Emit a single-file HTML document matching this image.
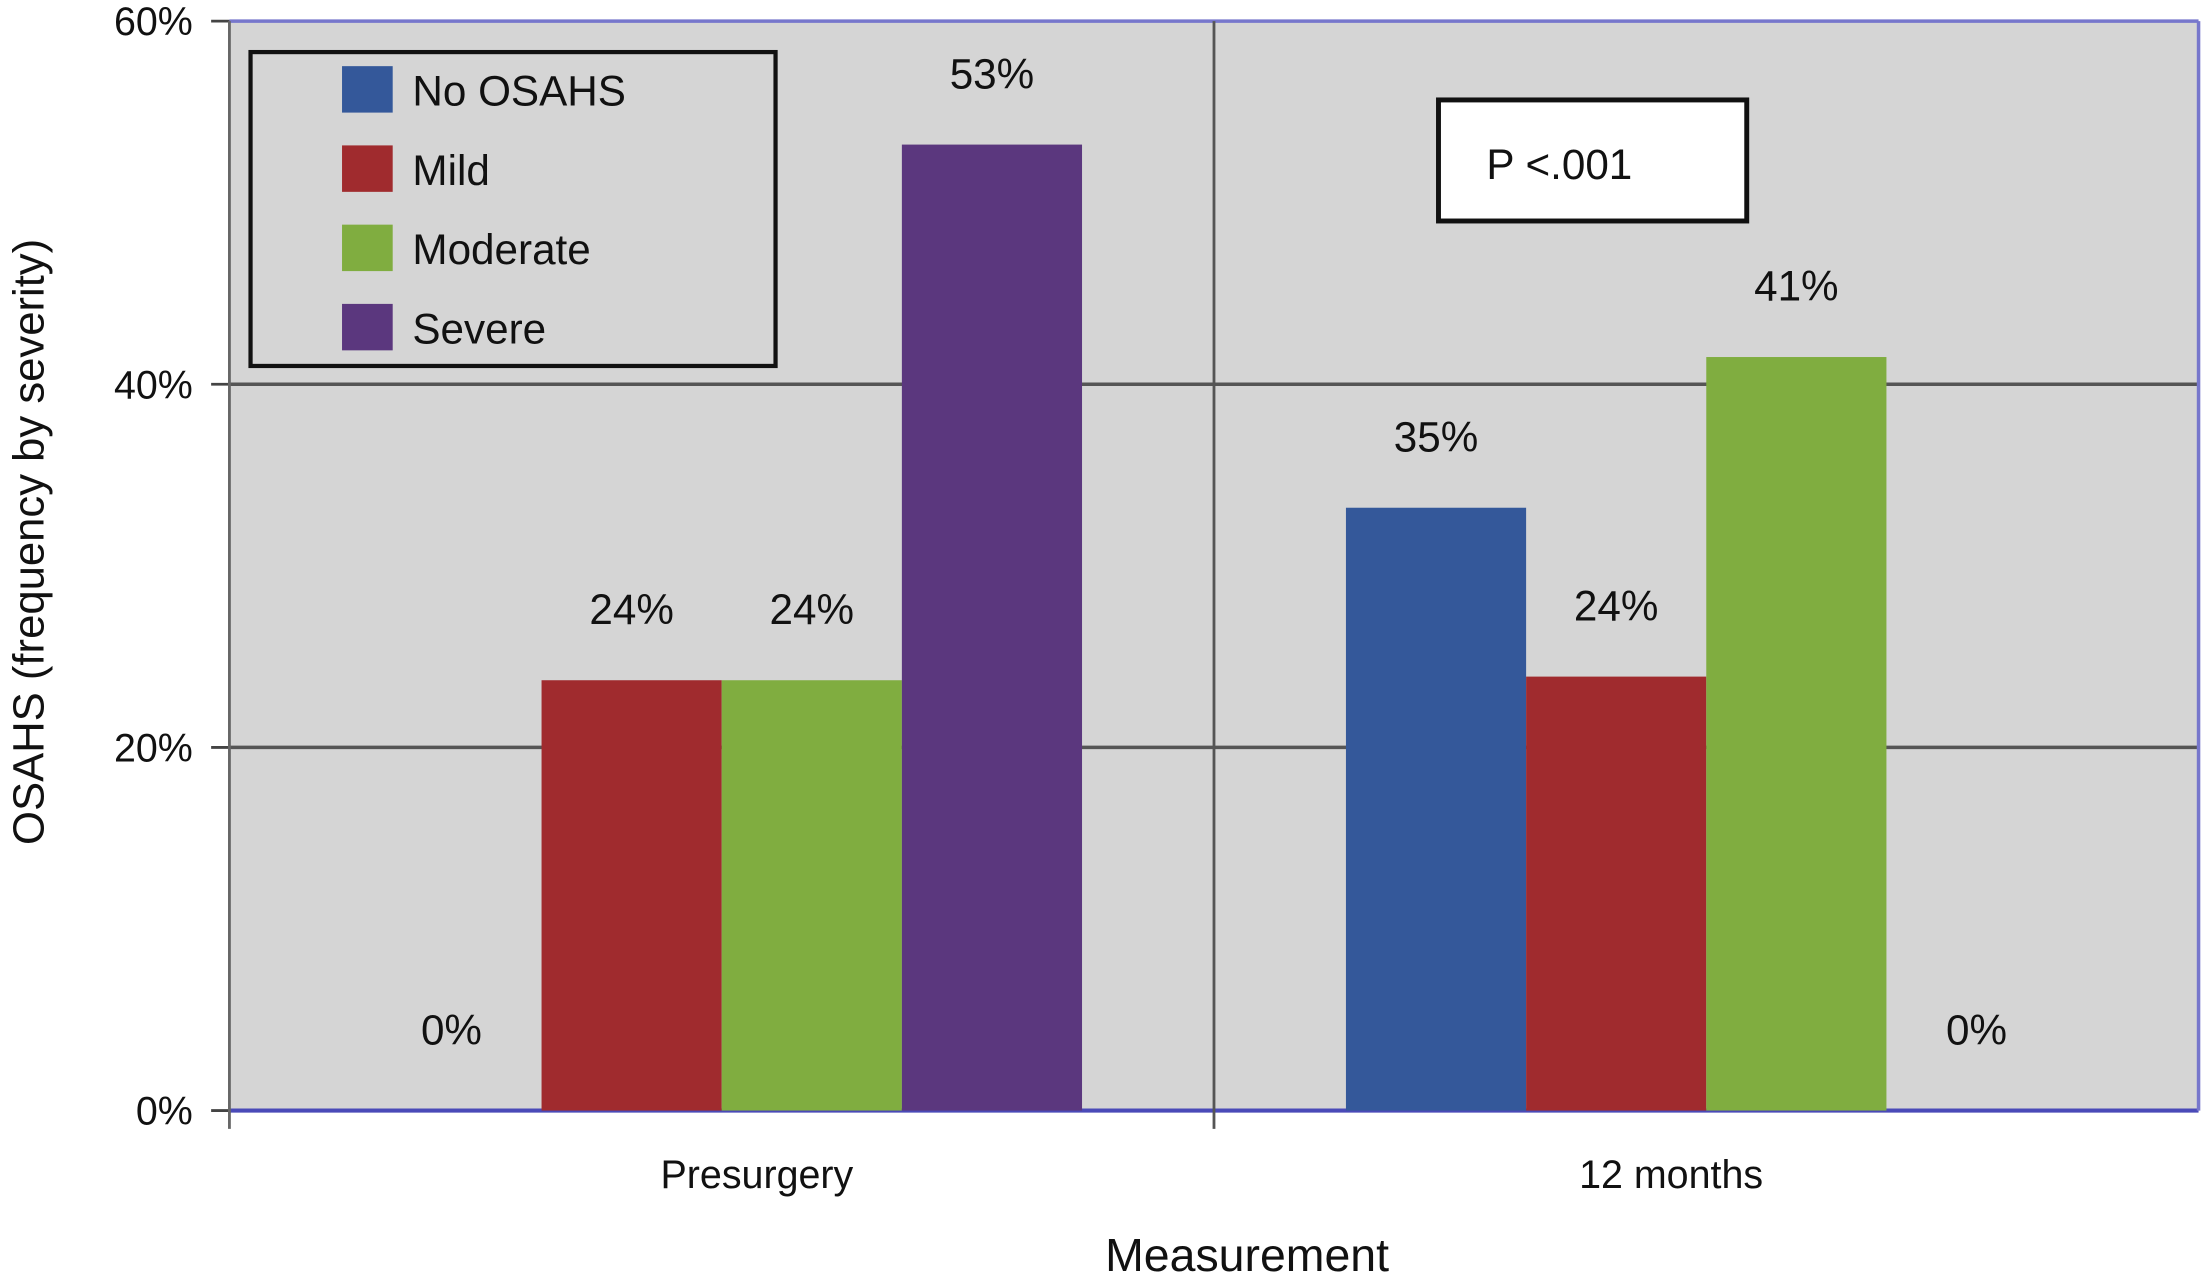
<!DOCTYPE html>
<html><head><meta charset="utf-8"><style>
html,body{margin:0;padding:0;background:#fff}
svg{display:block;font-family:"Liberation Sans",Arial,sans-serif}
</style></head><body>
<svg id="chart" width="2207" height="1283" viewBox="0 0 1568 911.5" preserveAspectRatio="none" xmlns="http://www.w3.org/2000/svg">
<rect x="163" y="15" width="1399" height="775" fill="#d5d5d5"/>
<g id="grid"></g>
<g id="bars"></g>
<g id="labels"></g>
<g>
<rect x="178" y="37" width="373" height="223" fill="#d5d5d5" stroke="#111" stroke-width="3"/>
<g id="legend-items"></g>
</g>
<g>
<rect x="1022" y="71" width="219" height="86" fill="#fff" stroke="#111" stroke-width="3.5"/>
<text x="1056" y="127" font-size="30" fill="#111">P &lt;.001</text>
</g>
<text x="886" y="903" font-size="33" text-anchor="middle" fill="#111">Measurement</text>
<text transform="translate(31,385) rotate(-90)" font-size="31" text-anchor="middle" fill="#111">OSAHS (frequency by severity)</text>
</svg>
<script>
const categories = ["Presurgery", "12 months"];
const seriesNames = ["No OSAHS", "Mild", "Moderate", "Severe"];
const seriesColors = ["#34589a", "#a02b2e", "#80ad40", "#5b377e"];
const noOsahs = [0, 33.2];
const mild = [23.7, 23.9];
const moderate = [23.7, 41.5];
const severe = [53.2, 0];
const noOsahsLabels = ["0%", "35%"];
const mildLabels = ["24%", "24%"];
const moderateLabels = ["24%", "41%"];
const severeLabels = ["53%", "0%"];
const yTicks = [0, 20, 40, 60];
const yTickLabels = ["0%", "20%", "40%", "60%"];

const NS = "http://www.w3.org/2000/svg";
const x0 = 163, x1 = 1562, yTop = 15, yBot = 789;
function yScale(v){ return yBot - (v/60)*(yBot-yTop); }
const catWidth = (x1-x0)/categories.length;
const barW = 128;
function barX(ci, si){ const c = x0 + catWidth*ci + catWidth/2; return c - 2*barW + si*barW; }
function mk(tag, attrs, parent){ const e=document.createElementNS(NS,tag); for(const k in attrs) e.setAttribute(k,attrs[k]); parent.appendChild(e); return e; }

const grid = document.getElementById('grid');
yTicks.forEach((t,i)=>{
  const y = yScale(t);
  const l = mk('line',{x1:x0,x2:x1,y1:y,y2:y,stroke: i===0?'#4a4ab8':(i===yTicks.length-1?'#7777cc':'#555'),'stroke-width':i===0?3:2.5},grid);
  
  
  const tk = mk('line',{x1:150,x2:x0,y1:y,y2:y,stroke:'#444','stroke-width':2},grid);
  
  
  const tx = mk('text',{x:137,y:y+10,'font-size':28,'text-anchor':'end',fill:'#111'},grid);
  tx.textContent = yTickLabels[i];
  
  
});
const vr = mk('line',{x1:x1,x2:x1,y1:yTop,y2:yBot,stroke:'#7777cc','stroke-width':2.5},grid);


const vl = mk('line',{x1:x0,x2:x0,y1:yTop,y2:802,stroke:'#666','stroke-width':2},grid);


categories.forEach((c,ci)=>{
  if(ci>0){
    const d = mk('line',{x1:x0+catWidth*ci,x2:x0+catWidth*ci,y1:yTop,y2:802,stroke:'#555','stroke-width':2},grid);
    
    
  }
  const t = mk('text',{x:x0+catWidth*ci+catWidth/2+(ci===0?25:-25),y:844,'font-size':28,'text-anchor':'middle',fill:'#111'},grid);
  t.textContent = c;
  
  
});

const series = [noOsahs, mild, moderate, severe];
const seriesLabels = [noOsahsLabels, mildLabels, moderateLabels, severeLabels];
const bars = document.getElementById('bars'), labels = document.getElementById('labels');
categories.forEach((c,ci)=>{
  series.forEach((s,si)=>{
    const v = s[ci], x = barX(ci,si), y = yScale(v);
    if(v>0){
      const r = mk('rect',{x:x,y:y,width:barW,height:yBot-y,fill:seriesColors[si]},bars);
      
      
    }
    const ly = v>0 ? y-40 : yBot-47;
    const t = mk('text',{x:x+barW/2,y:ly,'font-size':30,'text-anchor':'middle',fill:'#111'},labels);
    t.textContent = seriesLabels[si][ci];
    
    
  });
});

const li = document.getElementById('legend-items');
seriesNames.forEach((n,i)=>{
  const y = 47 + i*56.3;
  const r = mk('rect',{x:243,y:y,width:36,height:33,fill:seriesColors[i]},li);
  
  
  const t = mk('text',{x:293,y:y+28,'font-size':30,fill:'#111'},li);
  t.textContent = n;
  
  
});
</script>
</body></html>
